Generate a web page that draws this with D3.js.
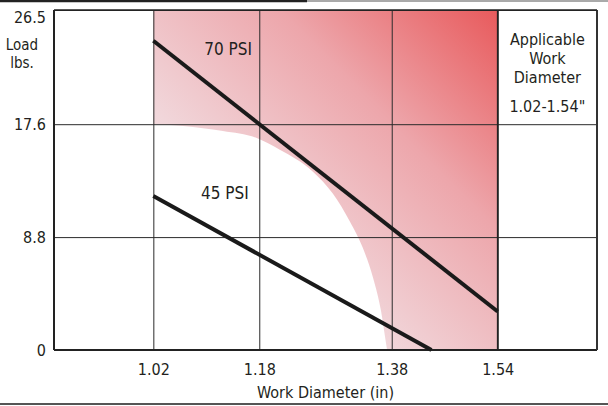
<!DOCTYPE html>
<html>
<head>
<meta charset="utf-8">
<script src="https://cdn.jsdelivr.net/npm/d3@7"></script>
<style>
  body { margin: 0; background: #fff; }
  svg text { font-family: "Liberation Sans Narrow", "DejaVu Sans Condensed", "Arial Narrow", sans-serif; fill: #231f20; }
  .grid line { stroke: #2b2b2b; stroke-width: 1; }
  .grid path { display: none; }
</style>
</head>
<body>
<script>
// ---------------- data ----------------
const xTicks = [1.02, 1.18, 1.38, 1.54];
const xTickLabels = ["1.02", "1.18", "1.38", "1.54"];
const yTicks = [0, 8.8, 17.6, 26.5];
const yTickLabels = ["0", "8.8", "17.6", "26.5"];

// pressure lines: diameter (in) -> load (lbs)
const psi70 = [{ d: 1.02, load: 24.1 }, { d: 1.54, load: 3.0 }];
const psi45 = [{ d: 1.02, load: 12.0 }, { d: 1.44, load: 0 }];

// lower-left edge of the shaded working zone
const zoneEdge = [
  { d: 1.020, load: 17.6 }, { d: 1.035, load: 17.58 }, { d: 1.065, load: 17.45 },
  { d: 1.125, load: 17.06 }, { d: 1.177, load: 16.5 }, { d: 1.211, load: 15.6 },
  { d: 1.261, load: 13.9 }, { d: 1.291, load: 12.2 }, { d: 1.317, load: 10.0 },
  { d: 1.336, load: 8.0 }, { d: 1.352, load: 5.6 }, { d: 1.364, load: 3.0 },
  { d: 1.370, load: 1.0 }, { d: 1.373, load: 0 }
];
const zoneRange = [1.02, 1.54];

// ---------------- layout ----------------
const W = 608, H = 406;
const margin = { top: 10, right: 11, bottom: 56, left: 54 };
const width = W - margin.left - margin.right;
const height = H - margin.top - margin.bottom;

const svg = d3.select("body").append("svg")
  .attr("width", W)
  .attr("height", H);

// page rules
svg.append("line").attr("x1", 0).attr("x2", 307).attr("y1", 1).attr("y2", 1)
  .attr("stroke", "#222").attr("stroke-width", 2.5);
svg.append("line").attr("x1", 307).attr("x2", W).attr("y1", 1).attr("y2", 1)
  .attr("stroke", "#555").attr("stroke-width", 1);
svg.append("line").attr("x1", 0).attr("x2", W).attr("y1", 404).attr("y2", 404)
  .attr("stroke", "#555").attr("stroke-width", 2);

const g = svg.append("g")
  .attr("transform", "translate(" + margin.left + "," + margin.top + ")");

const x = d3.scaleLinear().domain([0.87, 1.69]).range([0, width]);
const y = d3.scaleLinear().domain([0, 26.5]).range([height, 0]);

// gradient for the working zone
const grad = svg.append("defs").append("linearGradient")
  .attr("id", "zoneGrad")
  .attr("gradientUnits", "userSpaceOnUse")
  .attr("x1", x(zoneRange[0])).attr("y1", y(0))
  .attr("x2", x(zoneRange[1])).attr("y2", y(26.5));
[[0, "#f5f1f3"], [0.35, "#f1d6da"], [0.68, "#eda6ab"], [1, "#e85a5c"]].forEach(function (s) {
  grad.append("stop").attr("offset", s[0]).attr("stop-color", s[1]);
});

const edgeLine = d3.line()
  .x(function (d) { return x(d.d); })
  .y(function (d) { return y(d.load); })
  .curve(d3.curveMonotoneX);

const zonePath = edgeLine(zoneEdge) +
  "L" + x(zoneRange[1]) + "," + y(0) +
  "L" + x(zoneRange[1]) + "," + y(26.5) +
  "L" + x(zoneRange[0]) + "," + y(26.5) + "Z";

g.append("path")
  .attr("d", zonePath)
  .attr("fill", "url(#zoneGrad)");

// grid via axes
const xGrid = g.append("g")
  .attr("class", "grid")
  .attr("transform", "translate(0," + height + ")")
  .call(d3.axisBottom(x).tickValues(xTicks).tickSize(-height).tickFormat(function (d, i) { return xTickLabels[i]; }));
xGrid.selectAll("text").attr("dy", "1.4em").style("font-size", "16px");

const yGrid = g.append("g")
  .attr("class", "grid")
  .call(d3.axisLeft(y).tickValues(yTicks).tickSize(-width).tickPadding(8).tickFormat(function (d, i) { return yTickLabels[i]; }));
yGrid.selectAll("text").style("font-size", "16px");
yGrid.selectAll(".tick").filter(function (d) { return d === 26.5; })
  .select("text").attr("dy", "0.8em");

// frame
g.append("line").attr("x1", 0).attr("x2", 0).attr("y1", 0).attr("y2", height)
  .attr("stroke", "#222").attr("stroke-width", 2);
g.append("line").attr("x1", 0).attr("x2", width).attr("y1", height).attr("y2", height)
  .attr("stroke", "#222").attr("stroke-width", 2);
g.append("line").attr("x1", width).attr("x2", width).attr("y1", 0).attr("y2", height)
  .attr("stroke", "#333").attr("stroke-width", 2);
g.append("line").attr("x1", 0).attr("x2", width).attr("y1", 0).attr("y2", 0)
  .attr("stroke", "#222").attr("stroke-width", 1.5);
g.append("line").attr("x1", x(1.54)).attr("x2", x(1.54)).attr("y1", 0).attr("y2", height)
  .attr("stroke", "#222").attr("stroke-width", 1.6);

// pressure lines
const line = d3.line()
  .x(function (d) { return x(d.d); })
  .y(function (d) { return y(d.load); });

[psi70, psi45].forEach(function (s) {
  g.append("path")
    .attr("d", line(s))
    .attr("fill", "none")
    .attr("stroke", "#1a1a1a")
    .attr("stroke-width", 4);
});

g.append("text").attr("x", x(1.133)).attr("y", y(23.0))
  .attr("text-anchor", "middle").style("font-size", "17px").text("70 PSI");
g.append("text").attr("x", x(1.128)).attr("y", y(11.8))
  .attr("text-anchor", "middle").style("font-size", "17px").text("45 PSI");

// side note
const noteX = (x(1.54) + width) / 2;
["Applicable", "Work", "Diameter"].forEach(function (t, i) {
  g.append("text").attr("x", noteX).attr("y", 35 + i * 19)
    .attr("text-anchor", "middle").style("font-size", "16px").text(t);
});
g.append("text").attr("x", noteX).attr("y", 102)
  .attr("text-anchor", "middle").style("font-size", "16px").text("1.02-1.54\"");

// axis titles
svg.append("text").attr("x", 22).attr("y", 50)
  .attr("text-anchor", "middle").style("font-size", "15px").text("Load");
svg.append("text").attr("x", 22).attr("y", 68)
  .attr("text-anchor", "middle").style("font-size", "15px").text("lbs.");
svg.append("text").attr("x", margin.left + width / 2).attr("y", 398)
  .attr("text-anchor", "middle").style("font-size", "16px").text("Work Diameter (in)");
</script>
</body>
</html>
